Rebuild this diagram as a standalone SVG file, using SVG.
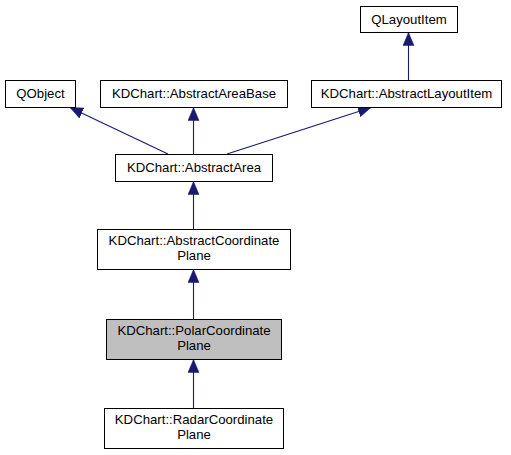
<svg xmlns="http://www.w3.org/2000/svg" width="511" height="455" viewBox="0 0 511 455">
<style>
.n rect{fill:#fff;stroke:#000;stroke-width:1}
.n text{font-family:"Liberation Sans",Arial,sans-serif;font-size:13.2px;fill:#000;text-anchor:middle}
.e line{stroke:#191970;stroke-width:1.1}
</style>
<defs>
<marker id="ah" markerUnits="userSpaceOnUse" markerWidth="14" markerHeight="12" refX="13" refY="5.5" orient="auto">
<path d="M0,0 L13,5.5 L0,11 z" fill="#191970" stroke="#191970" stroke-width="0.5"/>
</marker>
</defs>
<rect width="511" height="455" fill="#fff"/>
<g id="edges" class="e">
<line x1="408.5" y1="80" x2="408.5" y2="32.5" marker-end="url(#ah)"/>
<line x1="168" y1="154" x2="70" y2="107.5" marker-end="url(#ah)"/>
<line x1="193.5" y1="154" x2="193.5" y2="107.5" marker-end="url(#ah)"/>
<line x1="227" y1="154" x2="371" y2="107.5" marker-end="url(#ah)"/>
<line x1="193.5" y1="229" x2="193.5" y2="181.5" marker-end="url(#ah)"/>
<line x1="193.5" y1="319" x2="193.5" y2="269.5" marker-end="url(#ah)"/>
<line x1="193.5" y1="408" x2="193.5" y2="359.5" marker-end="url(#ah)"/>
</g>
<g id="QLayoutItem" class="n"><rect x="360.5" y="6.5" width="97" height="26"/><text x="409" y="24">QLayoutItem</text></g>
<g id="QObject" class="n"><rect x="5.5" y="80.5" width="70" height="27"/><text x="40.5" y="98">QObject</text></g>
<g id="AbstractAreaBase" class="n"><rect x="100.5" y="80.5" width="187" height="27"/><text x="194" y="98">KDChart::AbstractAreaBase</text></g>
<g id="AbstractLayoutItem" class="n"><rect x="311.5" y="80.5" width="190" height="27"/><text x="406.5" y="98">KDChart::AbstractLayoutItem</text></g>
<g id="AbstractArea" class="n"><rect x="115.5" y="154.5" width="157" height="27"/><text x="194" y="172">KDChart::AbstractArea</text></g>
<g id="AbstractCoordinatePlane" class="n"><rect x="97.5" y="229.5" width="193" height="40"/><text x="194" y="245">KDChart::AbstractCoordinate</text><text x="194" y="260">Plane</text></g>
<g id="PolarCoordinatePlane" class="n"><rect x="106.5" y="319.5" width="175" height="40" style="fill:#bfbfbf"/><text x="194" y="335">KDChart::PolarCoordinate</text><text x="194" y="350">Plane</text></g>
<g id="RadarCoordinatePlane" class="n"><rect x="104.5" y="408.5" width="179" height="40"/><text x="194" y="424">KDChart::RadarCoordinate</text><text x="194" y="439">Plane</text></g>
</svg>
